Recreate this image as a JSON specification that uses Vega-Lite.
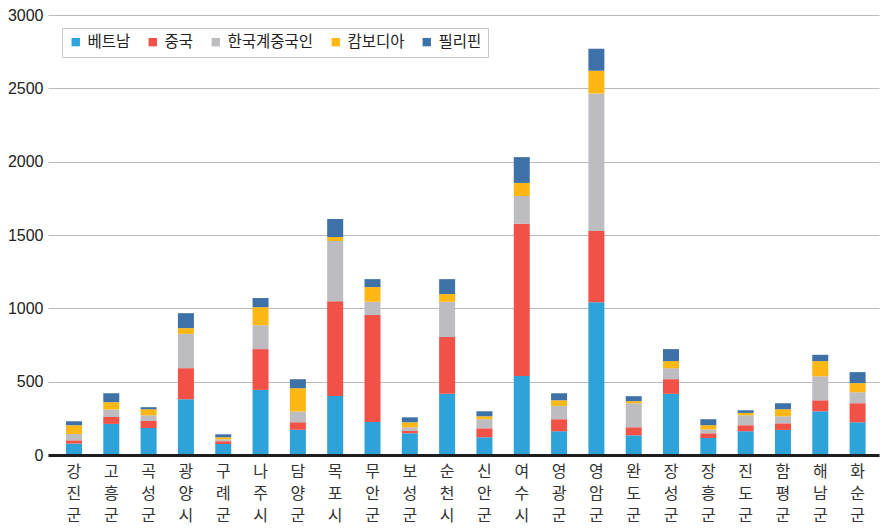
{
  "$schema": "https://vega.github.io/schema/vega-lite/v6.json",
  "width": 831,
  "height": 440,
  "autosize": {"type": "none"},
  "padding": {"left": 48, "top": 15, "right": 10, "bottom": 76},
  "background": "white",
  "config": {"view": {"stroke": null}, "font": "Noto Sans CJK KR"},
  "data": {
    "values": [
      {"region": "강진군", "type": "베트남", "count": 78}, {"region": "강진군", "type": "중국", "count": 22}, {"region": "강진군", "type": "한국계중국인", "count": 43}, {"region": "강진군", "type": "캄보디아", "count": 60}, {"region": "강진군", "type": "필리핀", "count": 27},
      {"region": "고흥군", "type": "베트남", "count": 212}, {"region": "고흥군", "type": "중국", "count": 47}, {"region": "고흥군", "type": "한국계중국인", "count": 51}, {"region": "고흥군", "type": "캄보디아", "count": 50}, {"region": "고흥군", "type": "필리핀", "count": 61},
      {"region": "곡성군", "type": "베트남", "count": 184}, {"region": "곡성군", "type": "중국", "count": 48}, {"region": "곡성군", "type": "한국계중국인", "count": 39}, {"region": "곡성군", "type": "캄보디아", "count": 41}, {"region": "곡성군", "type": "필리핀", "count": 14},
      {"region": "광양시", "type": "베트남", "count": 380}, {"region": "광양시", "type": "중국", "count": 212}, {"region": "광양시", "type": "한국계중국인", "count": 234}, {"region": "광양시", "type": "캄보디아", "count": 39}, {"region": "광양시", "type": "필리핀", "count": 102},
      {"region": "구례군", "type": "베트남", "count": 75}, {"region": "구례군", "type": "중국", "count": 19}, {"region": "구례군", "type": "한국계중국인", "count": 13}, {"region": "구례군", "type": "캄보디아", "count": 14}, {"region": "구례군", "type": "필리핀", "count": 20},
      {"region": "나주시", "type": "베트남", "count": 444}, {"region": "나주시", "type": "중국", "count": 278}, {"region": "나주시", "type": "한국계중국인", "count": 163}, {"region": "나주시", "type": "캄보디아", "count": 123}, {"region": "나주시", "type": "필리핀", "count": 62},
      {"region": "담양군", "type": "베트남", "count": 173}, {"region": "담양군", "type": "중국", "count": 50}, {"region": "담양군", "type": "한국계중국인", "count": 73}, {"region": "담양군", "type": "캄보디아", "count": 159}, {"region": "담양군", "type": "필리핀", "count": 62},
      {"region": "목포시", "type": "베트남", "count": 403}, {"region": "목포시", "type": "중국", "count": 646}, {"region": "목포시", "type": "한국계중국인", "count": 410}, {"region": "목포시", "type": "캄보디아", "count": 27}, {"region": "목포시", "type": "필리핀", "count": 123},
      {"region": "무안군", "type": "베트남", "count": 225}, {"region": "무안군", "type": "중국", "count": 729}, {"region": "무안군", "type": "한국계중국인", "count": 91}, {"region": "무안군", "type": "캄보디아", "count": 100}, {"region": "무안군", "type": "필리핀", "count": 54},
      {"region": "보성군", "type": "베트남", "count": 148}, {"region": "보성군", "type": "중국", "count": 16}, {"region": "보성군", "type": "한국계중국인", "count": 25}, {"region": "보성군", "type": "캄보디아", "count": 34}, {"region": "보성군", "type": "필리핀", "count": 34},
      {"region": "순천시", "type": "베트남", "count": 417}, {"region": "순천시", "type": "중국", "count": 387}, {"region": "순천시", "type": "한국계중국인", "count": 241}, {"region": "순천시", "type": "캄보디아", "count": 52}, {"region": "순천시", "type": "필리핀", "count": 102},
      {"region": "신안군", "type": "베트남", "count": 121}, {"region": "신안군", "type": "중국", "count": 61}, {"region": "신안군", "type": "한국계중국인", "count": 62}, {"region": "신안군", "type": "캄보디아", "count": 20}, {"region": "신안군", "type": "필리핀", "count": 34},
      {"region": "여수시", "type": "베트남", "count": 539}, {"region": "여수시", "type": "중국", "count": 1038}, {"region": "여수시", "type": "한국계중국인", "count": 189}, {"region": "여수시", "type": "캄보디아", "count": 89}, {"region": "여수시", "type": "필리핀", "count": 176},
      {"region": "영광군", "type": "베트남", "count": 162}, {"region": "영광군", "type": "중국", "count": 82}, {"region": "영광군", "type": "한국계중국인", "count": 91}, {"region": "영광군", "type": "캄보디아", "count": 38}, {"region": "영광군", "type": "필리핀", "count": 48},
      {"region": "영암군", "type": "베트남", "count": 1042}, {"region": "영암군", "type": "중국", "count": 485}, {"region": "영암군", "type": "한국계중국인", "count": 938}, {"region": "영암군", "type": "캄보디아", "count": 155}, {"region": "영암군", "type": "필리핀", "count": 150},
      {"region": "완도군", "type": "베트남", "count": 134}, {"region": "완도군", "type": "중국", "count": 55}, {"region": "완도군", "type": "한국계중국인", "count": 164}, {"region": "완도군", "type": "캄보디아", "count": 14}, {"region": "완도군", "type": "필리핀", "count": 34},
      {"region": "장성군", "type": "베트남", "count": 417}, {"region": "장성군", "type": "중국", "count": 100}, {"region": "장성군", "type": "한국계중국인", "count": 75}, {"region": "장성군", "type": "캄보디아", "count": 48}, {"region": "장성군", "type": "필리핀", "count": 82},
      {"region": "장흥군", "type": "베트남", "count": 116}, {"region": "장흥군", "type": "중국", "count": 32}, {"region": "장흥군", "type": "한국계중국인", "count": 27}, {"region": "장흥군", "type": "캄보디아", "count": 28}, {"region": "장흥군", "type": "필리핀", "count": 41},
      {"region": "진도군", "type": "베트남", "count": 162}, {"region": "진도군", "type": "중국", "count": 41}, {"region": "진도군", "type": "한국계중국인", "count": 68}, {"region": "진도군", "type": "캄보디아", "count": 16}, {"region": "진도군", "type": "필리핀", "count": 18},
      {"region": "함평군", "type": "베트남", "count": 171}, {"region": "함평군", "type": "중국", "count": 45}, {"region": "함평군", "type": "한국계중국인", "count": 48}, {"region": "함평군", "type": "캄보디아", "count": 48}, {"region": "함평군", "type": "필리핀", "count": 41},
      {"region": "해남군", "type": "베트남", "count": 298}, {"region": "해남군", "type": "중국", "count": 75}, {"region": "해남군", "type": "한국계중국인", "count": 164}, {"region": "해남군", "type": "캄보디아", "count": 103}, {"region": "해남군", "type": "필리핀", "count": 43},
      {"region": "화순군", "type": "베트남", "count": 223}, {"region": "화순군", "type": "중국", "count": 130}, {"region": "화순군", "type": "한국계중국인", "count": 75}, {"region": "화순군", "type": "캄보디아", "count": 62}, {"region": "화순군", "type": "필리핀", "count": 75}
    ]
  },
  "transform": [
    {"stack": "count", "groupby": ["region"], "as": ["lo", "hi"]}
  ],
  "mark": {"type": "bar", "width": 16},
  "encoding": {
    "x": {
      "field": "region",
      "type": "nominal",
      "sort": null,
      "scale": {"paddingInner": 0.57, "paddingOuter": 0.42, "align": 0.573},
      "axis": {
        "title": null,
        "labelExpr": "split(datum.label, '')",
        "labelAngle": 0,
        "labelBaseline": "top",
        "labelFont": "Noto Sans CJK KR",
        "labelFontSize": 16,
        "labelLineHeight": 22,
        "labelColor": "#333333",
        "labelPadding": 8,
        "ticks": false,
        "grid": false,
        "domain": true,
        "domainColor": "#1e1e1e",
        "domainWidth": 3,
        "zindex": 1
      }
    },
    "y": {
      "field": "hi",
      "type": "quantitative",
      "scale": {"domain": [0, 3000], "nice": false},
      "axis": {
        "title": null,
        "values": [0, 500, 1000, 1500, 2000, 2500, 3000],
        "format": "d",
        "grid": true,
        "gridColor": "#bbbbbb",
        "gridWidth": 1,
        "domain": false,
        "ticks": false,
        "labelFont": "Liberation Sans",
        "labelFontSize": 16,
        "labelColor": "#222222",
        "labelPadding": 5
      }
    },
    "y2": {"field": "lo"},
    "color": {
      "field": "type",
      "type": "nominal",
      "sort": ["베트남", "중국", "한국계중국인", "캄보디아", "필리핀"],
      "scale": {
        "domain": ["베트남", "중국", "한국계중국인", "캄보디아", "필리핀"],
        "range": ["#2ea3da", "#f15146", "#bdbdc1", "#ffb813", "#3e71a8"]
      },
      "legend": {
        "title": null,
        "orient": "none",
        "legendX": 14,
        "legendY": 13,
        "direction": "horizontal",
        "symbolType": "square",
        "symbolSize": 70,
        "symbolStrokeWidth": 0,
        "labelFont": "Noto Sans CJK KR",
        "labelFontSize": 15.5,
        "labelColor": "#222222",
        "labelOffset": 4,
        "columnPadding": 14,
        "padding": 6,
        "fillColor": "white",
        "strokeColor": "#c8c8c8"
      }
    }
  }
}
